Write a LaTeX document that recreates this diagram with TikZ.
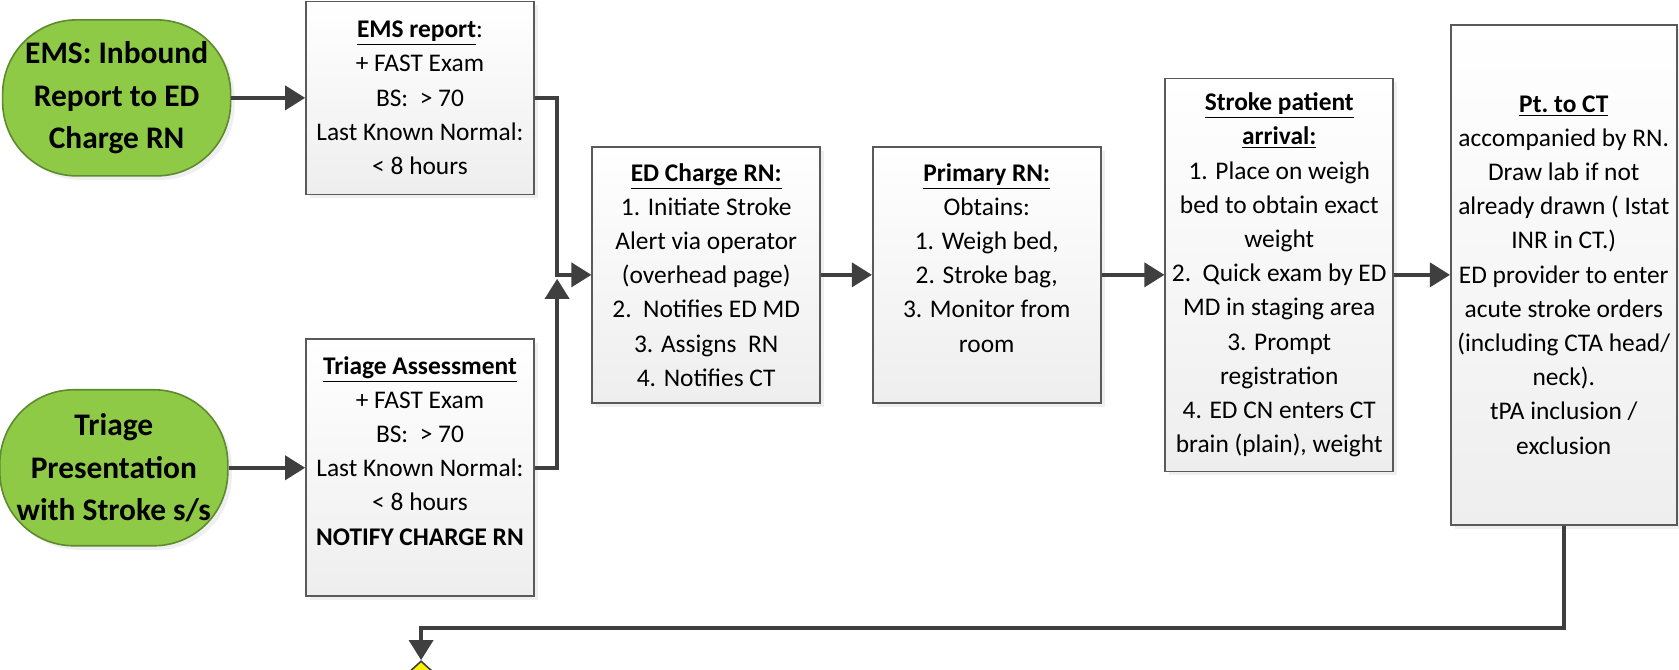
\documentclass[tikz,border=0pt]{standalone}
\usepackage{fontspec}
\setmainfont{Carlito}
\usepackage{tikz}
\usetikzlibrary{positioning,arrows.meta,shapes.geometric,shadows}
\definecolor{leaf}{HTML}{8FCA47}
\definecolor{leafrim}{HTML}{5E8A2E}
\definecolor{ink}{HTML}{3F3F3F}
\definecolor{rim}{HTML}{5A5A5A}
\definecolor{mist}{HTML}{EEEEEE}
\definecolor{flag}{HTML}{FFF200}
\newcommand{\uhead}[1]{\underline{\textbf{#1}}}

\begin{document}
\begin{tikzpicture}[font=\fontsize{12.7}{17.1}\selectfont,
  box/.style={draw=rim,line width=0.8pt,top color=white,bottom color=mist,
    minimum width=114pt,align=center,inner sep=0pt,
    drop shadow={shadow xshift=2pt,shadow yshift=-2pt,fill=black!12}},
  start/.style={draw=leafrim,line width=0.8pt,fill=leaf,rounded corners=37pt,
    minimum width=114pt,minimum height=78pt,align=center,inner sep=0pt,
    font=\fontsize{15.7}{21.3}\selectfont\bfseries,
    drop shadow={shadow xshift=2pt,shadow yshift=-2pt,fill=black!12}},
  ar/.style={-{Triangle[length=10pt,width=12pt]},line width=1.8pt,draw=ink},
]
\useasboundingbox (0,0) rectangle (839.5pt,-334.5pt);

% arrivals
\node[start] at (2.05,-1.72) (ems) {EMS: Inbound\\Report to ED\\Charge RN};
\node[box,minimum height=96.5pt] at (7.38,-1.72) (emsrep)
  {\uhead{EMS report}:\\+ FAST Exam\\BS:~~> 70\\Last Known Normal:\\< 8 hours};
\node[start] at (2.00,-8.22) (tri) {Triage\\Presentation\\with Stroke s/s};
\node[box,minimum height=128.5pt] at (7.38,-8.22) (trirep)
  {\uhead{Triage Assessment}\\+ FAST Exam\\BS:~~> 70\\Last Known Normal:\\< 8 hours\\
   \textbf{NOTIFY CHARGE RN}\\\mbox{}};

% main row
\node[box,minimum height=128pt] at (12.41,-4.83) (charge)
  {\uhead{ED Charge RN:}\\1. Initiate Stroke\\Alert via operator\\(overhead page)\\
   2.~~Notifies ED MD\\3. Assigns~~RN\\4. Notifies CT};
\node[box,minimum height=128pt] at (17.34,-4.83) (prim)
  {\uhead{Primary RN:}\\Obtains:\\1. Weigh bed,\\2. Stroke bag,\\3. Monitor from\\room\\\mbox{}};
\node[box,minimum height=196.5pt] at (22.48,-4.83) (arr)
  {\uhead{Stroke patient}\\\uhead{arrival:}\\1. Place on weigh\\bed to obtain exact\\weight\\
   2.~~Quick exam by ED\\MD in staging area\\3. Prompt\\registration\\
   4. ED CN enters CT\\brain (plain), weight};
\node[box,minimum width=113pt,minimum height=250pt] at (27.48,-4.83) (ct)
  {\uhead{Pt.\ to CT}\\accompanied by RN.\\Draw lab if not\\already drawn ( Istat\\INR in CT.)\\
   ED provider to enter\\acute stroke orders\\(including CTA head/\\neck).\\
   tPA inclusion /\\exclusion};

\node[diamond,draw=ink,line width=0.8pt,fill=flag,minimum width=44pt,minimum height=40pt,
  inner sep=0pt,anchor=north] at (7.40,-11.60) (dec) {};

\coordinate (jn) at (9.79,-4.90);
\coordinate (back) at (7.40,-11.04);

\draw[ar] (ems.east) -- (emsrep.west);
\draw[ar] (tri.east) -- (trirep.west);
\draw[ar] (emsrep.east) -| (jn |- charge.west) -- (charge.west);
\draw[ar] (trirep.east) -| (jn);
\draw[ar] (charge.east) -- (prim.west);
\draw[ar] (prim.east) -- (arr.west);
\draw[ar] (arr.east) -- (ct.west);
\draw[ar] (ct.south) |- (back) -- (dec.north);
\end{tikzpicture}
\end{document}
